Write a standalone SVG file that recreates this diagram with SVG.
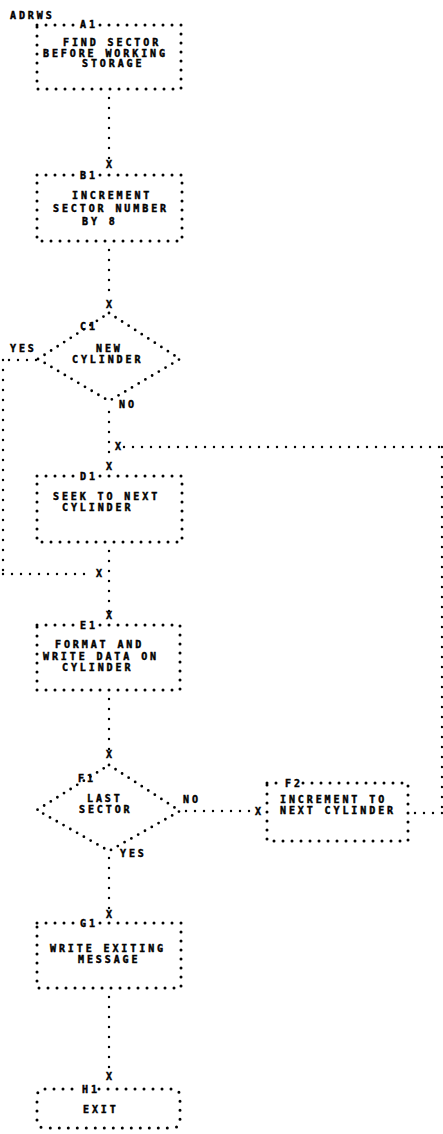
<svg xmlns="http://www.w3.org/2000/svg" width="443" height="1134" viewBox="0 0 443 1134">
<style>
.t{font-family:"DejaVu Sans Mono","Liberation Mono",monospace;font-weight:bold;font-size:10px;letter-spacing:2.9px;fill:#000;stroke:#000;stroke-width:0.45px}
.x{font-family:"DejaVu Sans Mono","Liberation Mono",monospace;font-weight:bold;font-size:10px;fill:#000;stroke:#000;stroke-width:0.45px;text-anchor:middle}
.box{fill:none;stroke:#000;stroke-width:3;stroke-dasharray:0 9;stroke-linecap:round}
.dia{fill:none;stroke:#000;stroke-width:2.8;stroke-dasharray:0 7.8;stroke-linecap:round}
.c{fill:none;stroke:#000;stroke-width:2.4;stroke-dasharray:0 10;stroke-linecap:round}
.ch{fill:none;stroke:#000;stroke-width:2.4;stroke-dasharray:0 9;stroke-linecap:round}
.lb{fill:#fff}
</style>
<rect width="443" height="1134" fill="#fff"/>
<text class="t" x="10" y="19">ADRWS</text>
<g id="connectors">
<path class="c" d="M109,98 V160"/><text class="x" x="109" y="168">X</text>
<path class="c" d="M109,250 V300"/><text class="x" x="109" y="308">X</text>
<path class="c" d="M109,412 V460"/><text class="x" x="109" y="470">X</text>
<path class="ch" d="M124,447 H442"/><text class="x" x="118" y="450">X</text>
<path class="c" d="M442,447 V813"/>
<path class="ch" d="M442,813 H412"/>
<path class="ch" d="M36,360 H3"/>
<path class="c" d="M3,360 V574"/>
<path class="ch" d="M3,574 H93"/><text class="x" x="99" y="577">X</text>
<path class="c" d="M109,551 V612"/><text class="x" x="109" y="619">X</text>
<path class="c" d="M109,699 V750"/><text class="x" x="109" y="758">X</text>
<path class="ch" d="M186,811 H252"/><text class="x" x="258" y="815">X</text>
<path class="c" d="M109,858 V910"/><text class="x" x="109" y="918">X</text>
<path class="c" d="M109,997 V1072"/><text class="x" x="109" y="1080">X</text>
<text class="t" x="10" y="352">YES</text>
<text class="t" x="119" y="408">NO</text>
<text class="t" x="183" y="803">NO</text>
<text class="t" x="120" y="857">YES</text>
</g>
<g id="A1">
<rect class="box" x="37" y="25" width="144" height="64"/>
<rect class="lb" x="77" y="19" width="18" height="11"/>
<text class="t" x="80" y="28">A1</text>
<text class="t" x="63" y="46">FIND SECTOR</text>
<text class="t" x="43" y="56.5">BEFORE WORKING</text>
<text class="t" x="82" y="67">STORAGE</text>
</g>
<g id="B1">
<rect class="box" x="37" y="175" width="145" height="66"/>
<rect class="lb" x="77" y="169" width="18" height="11"/>
<text class="t" x="80" y="179">B1</text>
<text class="t" x="72" y="199">INCREMENT</text>
<text class="t" x="53" y="212">SECTOR NUMBER</text>
<text class="t" x="82" y="225">BY 8</text>
</g>
<g id="C1">
<path class="dia" d="M109,313 L180,359 L109,401 L38,359 Z"/>
<text class="t" x="80" y="330">C1</text>
<text class="t" x="96" y="352">NEW</text>
<text class="t" x="72" y="363">CYLINDER</text>
</g>
<g id="D1">
<rect class="box" x="37" y="476" width="145" height="66"/>
<rect class="lb" x="77" y="470" width="18" height="11"/>
<text class="t" x="80" y="480">D1</text>
<text class="t" x="53" y="499.5">SEEK TO NEXT</text>
<text class="t" x="62" y="510.5">CYLINDER</text>
</g>
<g id="E1">
<rect class="box" x="37" y="625" width="143" height="65"/>
<rect class="lb" x="77" y="619" width="18" height="11"/>
<text class="t" x="80" y="629">E1</text>
<text class="t" x="55" y="648">FORMAT AND</text>
<text class="t" x="43" y="659.5">WRITE DATA ON</text>
<text class="t" x="62" y="671">CYLINDER</text>
</g>
<g id="F1">
<path class="dia" d="M109,765 L180,811 L109,851 L37,810 Z"/>
<text class="t" x="78" y="782">F1</text>
<text class="t" x="87" y="802">LAST</text>
<text class="t" x="79" y="813">SECTOR</text>
</g>
<g id="F2">
<rect class="box" x="267" y="783" width="141" height="58"/>
<rect class="lb" x="282" y="777" width="18" height="11"/>
<text class="t" x="285" y="787">F2</text>
<text class="t" x="280" y="803">INCREMENT TO</text>
<text class="t" x="280" y="814">NEXT CYLINDER</text>
</g>
<g id="G1">
<rect class="box" x="37" y="923" width="144" height="65"/>
<rect class="lb" x="77" y="917" width="18" height="11"/>
<text class="t" x="80" y="927">G1</text>
<text class="t" x="50" y="952">WRITE EXITING</text>
<text class="t" x="78" y="963">MESSAGE</text>
</g>
<g id="H1">
<path class="box" d="M45,1089 H172 Q180,1089 180,1097 V1120 Q180,1128 172,1128 H45 Q37,1128 37,1120 V1097 Q37,1089 45,1089 Z"/>
<rect class="lb" x="79" y="1083" width="18" height="11"/>
<text class="t" x="82" y="1093">H1</text>
<text class="t" x="83" y="1113">EXIT</text>
</g>
</svg>
